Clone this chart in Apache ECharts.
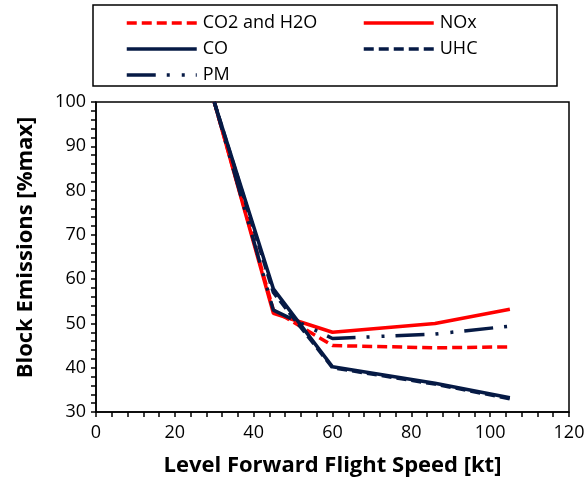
<!DOCTYPE html>
<html>
<head>
<meta charset="utf-8">
<script src="https://cdn.jsdelivr.net/npm/echarts@6/dist/echarts.min.js"></script>
<style>
  html, body { margin: 0; padding: 0; background: #fff; }
  #chart { width: 588px; height: 488px; }
</style>
</head>
<body>
<div id="chart"></div>
<script>
// Flight speed [kt] at which block emissions were evaluated
const speeds = [30, 45, 60, 86, 105];

// Block emissions normalised to the maximum [%]
const co2h2o = [100, 53.0, 45.0, 44.5, 44.7];
const nox    = [100, 52.3, 48.0, 50.0, 53.2];
const co     = [100, 57.8, 40.2, 36.5, 33.2];
const uhc    = [100, 57.0, 40.0, 36.3, 33.0];
const pm     = [100, 53.0, 46.6, 47.6, 49.4];

const seriesNames = ['CO2 and H2O', 'NOx', 'CO', 'UHC', 'PM'];

const RED = '#ff0000';
const NAVY = '#061a45';
const FONT = 'Open Sans';

function pairs(ys) {
  return speeds.map((x, i) => [x, ys[i]]);
}

function lineSeries(name, ys, color, type, z) {
  return {
    name: name,
    type: 'line',
    data: pairs(ys),
    symbol: 'none',
    z: z,
    lineStyle: { color: color, width: 3.5, type: type, cap: 'butt' },
    itemStyle: { color: color }
  };
}

const chart = echarts.init(document.getElementById('chart'), null, { renderer: 'canvas' });

const legendCommon = {
  orient: 'vertical',
  itemWidth: 70,
  itemHeight: 12,
  itemGap: 6,
  // only the line sample is drawn, no marker on it
  itemStyle: { opacity: 0 },
  lineStyle: { width: 3.5 },
  textStyle: { fontFamily: FONT, fontSize: 18, lineHeight: 20, color: '#000', padding: [0, 0, 0, 1] },
  selectedMode: false
};

chart.setOption({
  animation: false,
  backgroundColor: '#fff',
  grid: {
    left: 96, right: 19, top: 102, bottom: 76,
    show: true, borderColor: '#000', borderWidth: 1.5
  },
  graphic: [{
    type: 'rect',
    shape: { x: 93, y: 5, width: 464, height: 81 },
    style: { fill: 'none', stroke: '#000', lineWidth: 1.5 },
    z: 0
  }],
  legend: [
    Object.assign({}, legendCommon, { left: 120, top: 8, data: [seriesNames[0], seriesNames[2], seriesNames[4]] }),
    Object.assign({}, legendCommon, { left: 357, top: 8, data: [seriesNames[1], seriesNames[3]] })
  ],
  xAxis: {
    type: 'value',
    min: 0, max: 120, interval: 20,
    name: 'Level Forward Flight Speed [kt]',
    nameLocation: 'middle',
    nameGap: 43,
    nameTextStyle: { fontFamily: FONT, fontSize: 22, fontWeight: 'bold', color: '#000' },
    axisLine: { show: true, onZero: false, lineStyle: { color: '#000', width: 1.5 } },
    axisTick: { show: true, inside: false, length: 5, lineStyle: { color: '#000', width: 1.5 } },
    minorTick: { show: true, splitNumber: 5, length: 5, lineStyle: { color: '#000', width: 1.5 } },
    axisLabel: { fontFamily: FONT, fontSize: 18, color: '#000', margin: 12 },
    splitLine: { show: false }
  },
  yAxis: {
    type: 'value',
    min: 30, max: 100, interval: 10,
    name: 'Block Emissions [%max]',
    nameLocation: 'middle',
    nameGap: 59,
    nameTextStyle: { fontFamily: FONT, fontSize: 22, fontWeight: 'bold', color: '#000', padding: [0, 0, 0, 19] },
    axisLine: { show: true, onZero: false, lineStyle: { color: '#000', width: 1.5 } },
    axisTick: { show: true, inside: false, length: 5, lineStyle: { color: '#000', width: 1.5 } },
    minorTick: { show: true, splitNumber: 5, length: 5, lineStyle: { color: '#000', width: 1.5 } },
    axisLabel: { fontFamily: FONT, fontSize: 18, color: '#000', margin: 10 },
    splitLine: { show: false }
  },
  series: [
    lineSeries(seriesNames[0], co2h2o, RED, [10, 5], 3),
    lineSeries(seriesNames[1], nox, RED, 'solid', 2),
    lineSeries(seriesNames[2], co, NAVY, 'solid', 4),
    lineSeries(seriesNames[3], uhc, NAVY, [10, 5], 5),
    lineSeries(seriesNames[4], pm, NAVY, [29, 11, 3, 12, 3, 11], 6)
  ]
});
</script>
</body>
</html>
